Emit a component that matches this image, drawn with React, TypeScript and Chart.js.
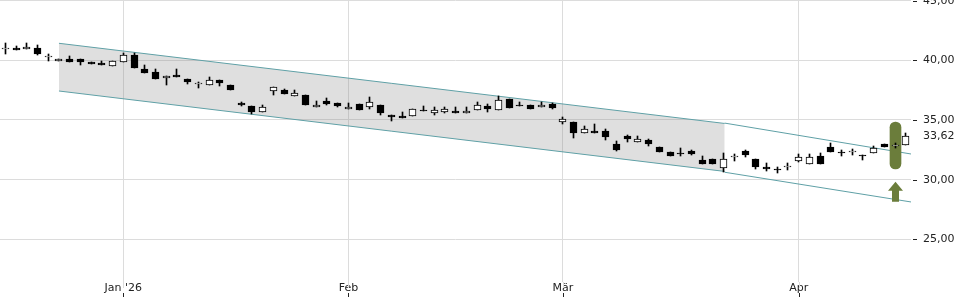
import React, { useEffect, useRef } from 'react';
import { Chart, registerables } from 'chart.js';

Chart.register(...registerables);

// Trading-day index 0..84 (daily candles)
const openP = [
  40.97, 41.06, 40.93, 41.04, 40.25, 39.92, 40.14, 40.14, 39.84, 39.78,
  39.50, 39.89, 40.47, 39.27, 39.02, 38.50, 38.80, 38.41, 38.00, 37.93,
  38.35, 37.93, 36.45, 36.17, 35.67, 37.46, 37.54, 37.01, 37.10, 36.06,
  36.62, 36.40, 35.90, 36.34, 36.06, 36.28, 35.39, 35.34, 35.31, 35.86,
  35.61, 35.70, 35.78, 35.56, 35.81, 36.17, 35.84, 36.79, 36.28, 36.28,
  36.09, 36.32, 34.83, 34.83, 33.91, 34.10, 34.08, 33.01, 33.63, 33.16,
  33.30, 32.74, 32.34, 32.26, 32.40, 31.67, 31.76, 31.00, 31.87, 32.40,
  31.71, 31.06, 30.90, 31.05, 31.59, 31.29, 31.98, 32.76, 32.28, 32.30,
  32.03, 32.21, 32.99, 32.86, 32.90,
];
const highP = [
  41.45, 41.20, 41.45, 41.31, 40.56, 40.11, 40.39, 40.14, 39.84, 39.97,
  39.95, 40.62, 40.64, 39.58, 39.27, 38.69, 39.27, 38.41, 38.21, 38.63,
  38.35, 37.93, 36.55, 36.17, 36.26, 37.74, 37.58, 37.54, 37.10, 36.59,
  36.82, 36.40, 36.40, 36.34, 36.90, 36.28, 35.39, 35.65, 35.90, 36.15,
  36.06, 36.09, 36.06, 36.06, 36.51, 36.37, 37.01, 36.79, 36.51, 36.28,
  36.51, 36.40, 35.25, 34.83, 34.47, 34.64, 34.22, 33.24, 33.77, 33.63,
  33.43, 32.74, 32.34, 32.65, 32.51, 31.98, 31.76, 32.21, 32.15, 32.49,
  31.71, 31.37, 31.09, 31.37, 32.15, 32.12, 32.21, 33.10, 32.49, 32.54,
  32.03, 32.82, 32.99, 33.10, 33.94,
];
const lowP = [
  40.56, 40.84, 40.93, 40.42, 39.97, 39.92, 39.84, 39.64, 39.69, 39.64,
  39.50, 39.89, 39.38, 38.96, 38.46, 37.96, 38.58, 38.04, 37.66, 37.93,
  37.85, 37.49, 36.15, 35.50, 35.67, 37.10, 37.20, 37.01, 36.26, 36.06,
  36.26, 36.06, 35.90, 35.84, 35.92, 35.44, 34.89, 35.19, 35.31, 35.73,
  35.44, 35.56, 35.56, 35.56, 35.81, 35.67, 35.84, 36.01, 36.15, 35.95,
  36.09, 35.95, 34.66, 33.52, 33.91, 33.89, 33.35, 32.38, 33.16, 33.16,
  32.82, 32.32, 31.98, 31.98, 32.04, 31.34, 31.34, 30.67, 31.59, 31.87,
  30.89, 30.73, 30.58, 30.81, 31.45, 31.29, 31.31, 32.34, 32.01, 32.07,
  31.65, 32.21, 32.76, 32.65, 32.90,
];
const closeP = [
  41.00, 40.84, 41.12, 40.53, 40.27, 40.11, 39.84, 39.86, 39.69, 39.64,
  39.95, 40.42, 39.38, 38.96, 38.46, 38.69, 38.58, 38.16, 38.04, 38.35,
  38.08, 37.49, 36.22, 35.70, 36.09, 37.74, 37.20, 37.29, 36.26, 36.26,
  36.37, 36.20, 36.11, 35.84, 36.51, 35.59, 35.23, 35.19, 35.90, 35.73,
  35.84, 35.92, 35.56, 35.78, 36.23, 35.95, 36.70, 36.01, 36.15, 35.95,
  36.28, 36.03, 35.06, 33.89, 34.22, 33.94, 33.55, 32.46, 33.38, 33.43,
  33.01, 32.32, 31.98, 32.13, 32.18, 31.34, 31.34, 31.71, 31.96, 32.04,
  31.04, 30.92, 30.85, 31.12, 31.92, 31.92, 31.31, 32.34, 32.24, 32.34,
  32.00, 32.63, 32.76, 32.90, 33.62,
];

// x-axis month ticks (trading-day index of the first day of each month)
const monthTickIndex = [11, 32, 52, 74];
const monthTickLabels = ["Jan '26", 'Feb', 'Mär', 'Apr'];

// y-axis ticks and last price
const yTicks = [25, 30, 35, 40, 45];
const lastPrice = 33.62;

// Trend channels (index, value)
const channel1X = [5, 67.1];
const channel1Upper = [41.43, 34.71];
const channel1Lower = [37.43, 30.69];
const channel2X = [67.1, 84.48];
const channel2Upper = [34.74, 32.15];
const channel2Lower = [30.62, 28.13];

// Signal marker
const signalIndex = 83;
const signalRange = [30.88, 34.81];
const arrowTip = 29.83;
const arrowHeadBase = 29.07;
const arrowBottom = 28.15;

const GREEN = '#6b7d3b';
const TEAL = '#5fa0a6';
const GRID = '#dcdcdc';
const TEXT = '#222222';

// Snap candle bars to the pixel grid so wicks and bodies stay crisp
const snapPlugin = {
  id: 'snap',
  beforeDatasetsDraw(chart: any) {
    [4, 5, 6].forEach((di) => {
      const meta = chart.getDatasetMeta(di);
      meta.data.forEach((el: any) => {
        el.x = Math.floor(el.x) + 0.5;
        let y = Math.round(el.y);
        let b = Math.round(el.base);
        if (Math.abs(b - y) < 1) b = y + 1;
        el.y = y;
        el.base = b;
      });
    });
  },
};

const decorPlugin = {
  id: 'decor',
  afterDatasetsDraw(chart: any) {
    const { ctx, scales } = chart;
    const x = scales.x;
    const y = scales.y;
    const cx = Math.floor(x.getPixelForValue(signalIndex)) + 0.5;
    const tip = y.getPixelForValue(arrowTip);
    const base = y.getPixelForValue(arrowHeadBase);
    const bottom = y.getPixelForValue(arrowBottom);
    const hh = 7.5;
    const sh = 3.5;
    ctx.save();
    ctx.fillStyle = GREEN;
    ctx.beginPath();
    ctx.moveTo(cx, tip);
    ctx.lineTo(cx + hh, base);
    ctx.lineTo(cx + sh, base);
    ctx.lineTo(cx + sh, bottom);
    ctx.lineTo(cx - sh, bottom);
    ctx.lineTo(cx - sh, base);
    ctx.lineTo(cx - hh, base);
    ctx.closePath();
    ctx.fill();
    ctx.restore();
  },
  afterDraw(chart: any) {
    const { ctx, chartArea, scales } = chart;
    const x = scales.x;
    const y = scales.y;
    ctx.save();
    ctx.lineWidth = 1;
    ctx.strokeStyle = TEXT;
    yTicks.forEach((v) => {
      const py = Math.round(y.getPixelForValue(v)) + 0.5;
      ctx.beginPath();
      ctx.moveTo(chartArea.right + 2, py);
      ctx.lineTo(chartArea.right + 6, py);
      ctx.stroke();
    });
    monthTickIndex.forEach((i) => {
      const px = Math.round(x.getPixelForValue(i)) + 0.5;
      ctx.strokeStyle = GRID;
      ctx.beginPath();
      ctx.moveTo(px, chartArea.bottom);
      ctx.lineTo(px, chartArea.bottom + 6);
      ctx.stroke();
      ctx.strokeStyle = TEXT;
      ctx.beginPath();
      ctx.moveTo(px, chartArea.bottom + 11);
      ctx.lineTo(px, chartArea.bottom + 15);
      ctx.stroke();
    });
    ctx.restore();
  },
};

export default function App() {
  const ref = useRef<HTMLCanvasElement | null>(null);

  useEffect(() => {
    if (!ref.current) return;
    const line = (xs: number[], ys: number[]) => xs.map((xv, k) => ({ x: xv, y: ys[k] }));
    const chart = new Chart(ref.current, {
      type: 'bar',
      data: {
        datasets: [
          {
            type: 'line',
            data: line(channel1X, channel1Upper),
            borderColor: TEAL,
            borderWidth: 1,
            pointRadius: 0,
            fill: false,
            order: 5,
          } as any,
          {
            type: 'line',
            data: line(channel1X, channel1Lower),
            borderColor: TEAL,
            borderWidth: 1,
            pointRadius: 0,
            fill: '-1',
            backgroundColor: 'rgba(128,128,128,0.25)',
            order: 5,
          } as any,
          {
            type: 'line',
            data: line(channel2X, channel2Upper),
            borderColor: TEAL,
            borderWidth: 1,
            pointRadius: 0,
            fill: false,
            order: 5,
          } as any,
          {
            type: 'line',
            data: line(channel2X, channel2Lower),
            borderColor: TEAL,
            borderWidth: 1,
            pointRadius: 0,
            fill: false,
            order: 5,
          } as any,
          {
            type: 'bar',
            data: [{ x: signalIndex, y: signalRange }],
            backgroundColor: GREEN,
            borderWidth: 0,
            borderSkipped: false,
            borderRadius: 6,
            barThickness: 11,
            grouped: false,
            order: 3,
          } as any,
          {
            type: 'bar',
            data: lowP.map((l, i) => ({ x: i, y: [l, highP[i]] })),
            backgroundColor: '#000000',
            borderWidth: 0,
            barThickness: 1,
            grouped: false,
            minBarLength: 1,
            order: 2,
          } as any,
          {
            type: 'bar',
            data: openP.map((o, i) => ({ x: i, y: [o, closeP[i]] })),
            backgroundColor: openP.map((o, i) => (closeP[i] >= o ? '#ffffff' : '#000000')),
            borderColor: '#000000',
            borderWidth: 1,
            borderSkipped: false,
            barThickness: 7,
            grouped: false,
            minBarLength: 1,
            order: 1,
          } as any,
        ],
      },
      options: {
        responsive: false,
        animation: false,
        layout: { padding: 0 },
        plugins: {
          legend: { display: false },
          tooltip: { enabled: false },
        },
        scales: {
          x: {
            type: 'linear',
            min: -0.5,
            max: 84.48,
            offset: false,
            afterBuildTicks: (s: any) => {
              s.ticks = monthTickIndex.map((v) => ({ value: v }));
            },
            afterFit: (s: any) => {
              s.height = 18;
              s.paddingLeft = 0;
              s.paddingRight = 0;
            },
            grid: { color: GRID, drawTicks: false, offset: false },
            border: { display: false },
            ticks: {
              autoSkip: false,
              maxRotation: 0,
              padding: 0,
              color: TEXT,
              font: { family: 'DejaVu Sans', size: 11 },
              callback: (v: any) => {
                const k = monthTickIndex.indexOf(Number(v));
                return k >= 0 ? monthTickLabels[k] : '';
              },
            },
          },
          y: {
            type: 'linear',
            position: 'right',
            min: 21.42,
            max: 45.059,
            beginAtZero: false,
            afterBuildTicks: (s: any) => {
              s.ticks = [25, 30, lastPrice, 35, 40, 45].map((v) => ({ value: v }));
            },
            afterFit: (s: any) => {
              s.width = 49;
              s.paddingTop = 0;
              s.paddingBottom = 0;
            },
            grid: {
              color: (c: any) => (c.tick && c.tick.value === lastPrice ? 'rgba(0,0,0,0)' : GRID),
              drawTicks: false,
            },
            border: { display: false },
            ticks: {
              autoSkip: false,
              padding: 12,
              color: TEXT,
              font: { family: 'DejaVu Sans', size: 11 },
              callback: (v: any) => Number(v).toFixed(2).replace('.', ','),
            },
          },
        },
      } as any,
      plugins: [snapPlugin, decorPlugin],
    });
    return () => chart.destroy();
  }, []);

  return (
    <div style={{ position: 'absolute', left: 0, top: 0, width: 960, height: 300, background: '#ffffff' }}>
      <canvas ref={ref} width={960} height={300} style={{ display: 'block' }} />
    </div>
  );
}
